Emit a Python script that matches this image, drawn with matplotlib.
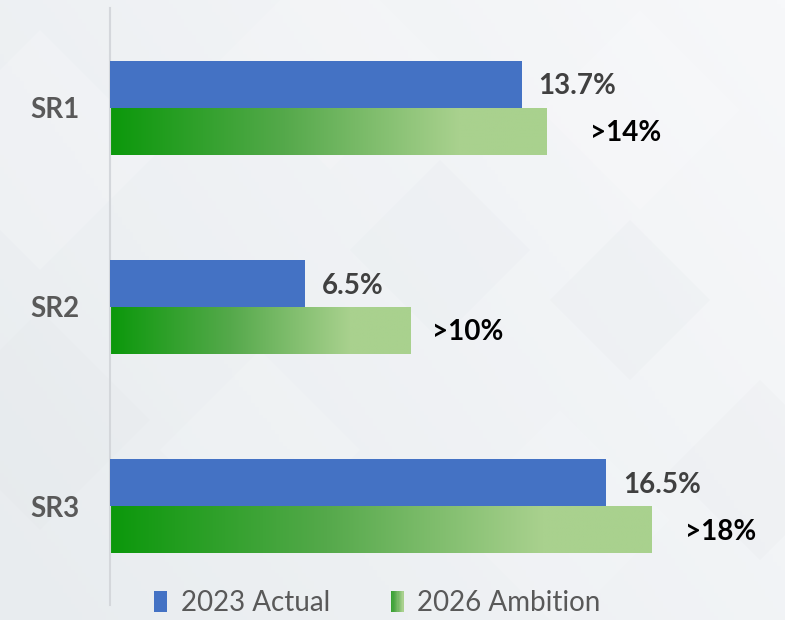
from __future__ import annotations

import matplotlib

matplotlib.use("Agg")
import matplotlib.pyplot as plt
import numpy as np
from matplotlib.colors import LinearSegmentedColormap
from matplotlib.legend_handler import HandlerBase
from matplotlib.patches import Polygon, Rectangle

OUT_PNG = "out.png"

CATEGORIES = ["SR1", "SR2", "SR3"]
ACTUAL_2023 = [13.7, 6.5, 16.5]
AMBITION_2026 = [14.5, 10.0, 18.0]
ACTUAL_LABELS = ["13.7%", "6.5%", "16.5%"]
AMBITION_LABELS = [">14%", ">10%", ">18%"]
SERIES_NAMES = ["2023 Actual", "2026 Ambition"]

BLUE = "#4472c4"
GREEN_CMAP = LinearSegmentedColormap.from_list(
    "ambition",
    [(0.0, "#0b980b"), (0.4, "#55a94b"), (0.8, "#a9d18e"), (1.0, "#a9d18e")],
)
FONT = ["Lato", "DejaVu Sans"]


class GradientHandler(HandlerBase):
    def create_artists(self, legend, orig_handle, xdescent, ydescent,
                       width, height, fontsize, trans):
        n = 10
        arts = []
        for i in range(n):
            arts.append(Rectangle(
                (-xdescent + width * i / n, -ydescent), width / n + 0.3, height,
                facecolor=GREEN_CMAP(0.25 + 0.55 * i / (n - 1)),
                edgecolor="none", transform=trans,
            ))
        return arts


def draw_background(fig) -> None:
    bg = fig.add_axes([0, 0, 1, 1], zorder=-10)
    bg.set_xlim(0, 785)
    bg.set_ylim(620, 0)
    bg.axis("off")
    xx = np.linspace(0, 1, 200)
    yy = np.linspace(0, 1, 160)
    gx, gy = np.meshgrid(xx, yy)
    shade = 0.35 * (1 - gx) + 0.2 * gy
    bg_cmap = LinearSegmentedColormap.from_list("bg", ["#f7f8fa", "#e8ecef"])
    bg.imshow(shade, extent=(0, 785, 620, 0), cmap=bg_cmap, vmin=0, vmax=0.55,
              aspect="auto")

    def diamond(cx, cy, r, color, alpha):
        pts = [(cx, cy - r), (cx + r, cy), (cx, cy + r), (cx - r, cy)]
        bg.add_patch(Polygon(pts, closed=True, facecolor=color,
                             edgecolor="none", alpha=alpha))

    diamond(40, 150, 120, "white", 0.18)
    diamond(330, 60, 110, "white", 0.15)
    diamond(640, 110, 100, "white", 0.18)
    diamond(440, 250, 90, "#dde2e7", 0.12)
    diamond(630, 300, 80, "#dde2e7", 0.15)
    diamond(40, 420, 110, "#dfe4e8", 0.15)
    diamond(260, 450, 100, "white", 0.15)
    diamond(560, 520, 110, "white", 0.12)
    diamond(760, 470, 90, "#dfe4e8", 0.15)


def gradient_bar(ax, bar) -> None:
    x0, y0 = bar.get_x(), bar.get_y()
    w, h = bar.get_width(), bar.get_height()
    grad = np.linspace(0, 1, 256).reshape(1, -1)
    im = ax.imshow(grad, extent=(x0, x0 + w, y0, y0 + h), cmap=GREEN_CMAP,
                   aspect="auto", zorder=2, interpolation="bilinear")
    im.set_clip_path(bar)


def build_chart() -> None:
    fig = plt.figure(figsize=(7.85, 6.2), dpi=100)
    draw_background(fig)

    ax = fig.add_axes([110 / 785, 15 / 620, 675 / 785, 597 / 620])
    ax.patch.set_alpha(0)

    y = np.arange(len(CATEGORIES))
    h = 0.235
    blue = ax.barh(y - h / 2, ACTUAL_2023, height=h, color=BLUE, zorder=3,
                   label=SERIES_NAMES[0])
    green = ax.barh(y + h / 2, AMBITION_2026, height=h, facecolor="none",
                    edgecolor="none", zorder=2, label=SERIES_NAMES[1])
    for bar in green:
        gradient_bar(ax, bar)

    green_gap = [1.46, 0.70, 1.13]
    for i in range(len(CATEGORIES)):
        ax.text(ACTUAL_2023[i] + 0.55, y[i] - h / 2 + 0.01, ACTUAL_LABELS[i],
                ha="left", va="center", fontsize=20, fontweight="bold",
                color="#404040", family=FONT)
        ax.text(AMBITION_2026[i] + green_gap[i], y[i] + h / 2 + 0.01,
                AMBITION_LABELS[i], ha="left", va="center", fontsize=20,
                fontweight="bold", color="black", family=FONT)

    ax.set_xlim(0, 675 / 30.07)
    ax.set_ylim(2.495, -0.5)
    ax.set_yticks(y)
    ax.set_yticklabels(CATEGORIES, fontsize=20, fontweight="bold",
                       color="#595959", family=FONT)
    ax.tick_params(axis="y", length=0, pad=22)
    ax.set_xticks([])
    for side in ["top", "right", "bottom"]:
        ax.spines[side].set_visible(False)
    ax.spines["left"].set_color("#d4d7db")
    ax.spines["left"].set_linewidth(1.5)

    handles = [blue, Rectangle((0, 0), 1, 1)]
    fig.legend(
        handles, SERIES_NAMES,
        handler_map={handles[1]: GradientHandler()},
        loc="center", bbox_to_anchor=(0.481, 0.027), ncol=2, frameon=False,
        prop={"family": FONT, "size": 20}, labelcolor="#595959",
        handlelength=0.45, handleheight=0.75, handletextpad=0.5,
        columnspacing=2.2, borderaxespad=0, borderpad=0,
    )

    fig.savefig(OUT_PNG, dpi=100)
    plt.close(fig)


def main() -> None:
    build_chart()
    print(f"Saved chart {OUT_PNG}")


if __name__ == "__main__":
    main()
